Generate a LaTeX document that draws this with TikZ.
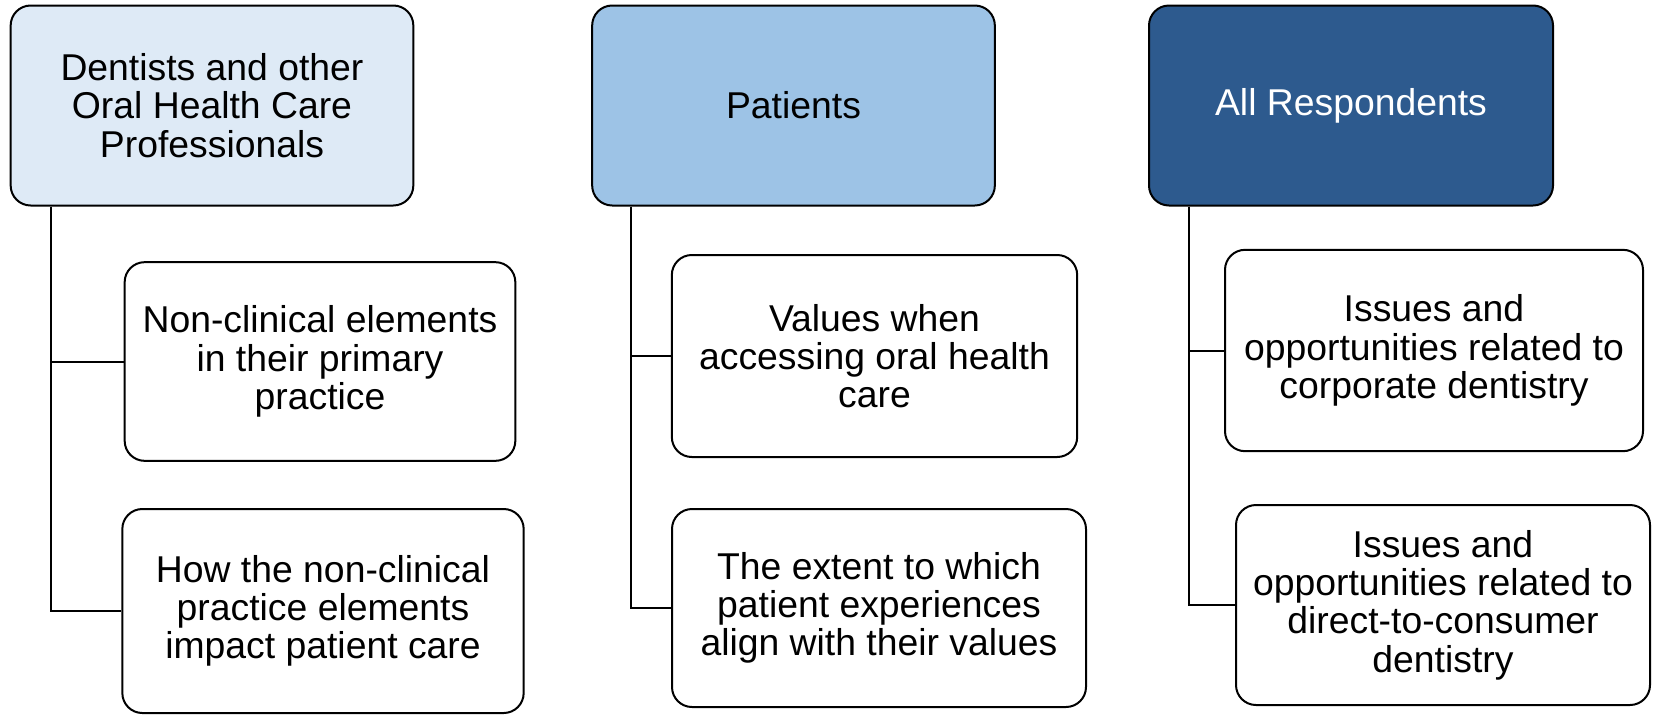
\documentclass[tikz,border=0pt]{standalone}
\usepackage{fontspec}
\setmainfont{Liberation Sans}
\definecolor{paleblue}{HTML}{DEEAF6}
\definecolor{midblue}{HTML}{9DC3E6}
\definecolor{darkblue}{HTML}{2D5A8E}
\tikzset{
	box/.style={draw, line width=1.5pt, rounded corners=15pt, align=center,
		inner sep=0pt, font=\fontsize{28}{28.7}\selectfont},
	link/.style={line width=1.5pt},
}

\begin{document}
\begin{tikzpicture}[x=0.75pt,y=-0.75pt]
	\useasboundingbox (0,0) rectangle (1655,715);
	\node[box, fill=paleblue, minimum width=302pt, minimum height=150pt] (H1) at (212,105.5) {Dentists and other\\Oral Health Care\\Professionals};
	\node[box, fill=midblue, minimum width=302pt, minimum height=150pt] (H2) at (793.5,105.5) {Patients};
	\node[box, fill=darkblue, text=white, minimum width=303pt, minimum height=150pt] (H3) at (1351,105.5) {All Respondents};
	\node[box, minimum width=293pt, minimum height=149pt] (c1a) at (320,361.5) {Non-clinical elements\\in their primary\\practice};
	\node[box, minimum width=301pt, minimum height=153pt] (c1b) at (323,611) {How the non-clinical\\practice elements\\impact patient care};
	\node[box, minimum width=304pt, minimum height=151.5pt] (c2a) at (874.5,356) {Values when\\accessing oral health\\care};
	\node[box, minimum width=310.5pt, minimum height=148.5pt] (c2b) at (879,608) {The extent to which\\patient experiences\\align with their values};
	\node[box, minimum width=313.5pt, minimum height=151pt] (c3a) at (1434,350.5) {Issues and\\opportunities related to\\corporate dentistry};
	\node[box, minimum width=310.5pt, minimum height=150pt] (c3b) at (1443,605) {Issues and\\opportunities related to\\direct-to-consumer\\dentistry};
	\draw [link] ([xshift=31pt]H1.south west) |- (c1a.west);
	\draw [link] ([xshift=31pt]H1.south west) |- (c1b.west);
	\draw [link] ([xshift=30pt]H2.south west) |- (c2a.west);
	\draw [link] ([xshift=30pt]H2.south west) |- (c2b.west);
	\draw [link] ([xshift=31pt]H3.south west) |- (c3a.west);
	\draw [link] ([xshift=31pt]H3.south west) |- (c3b.west);
\end{tikzpicture}
\end{document}
